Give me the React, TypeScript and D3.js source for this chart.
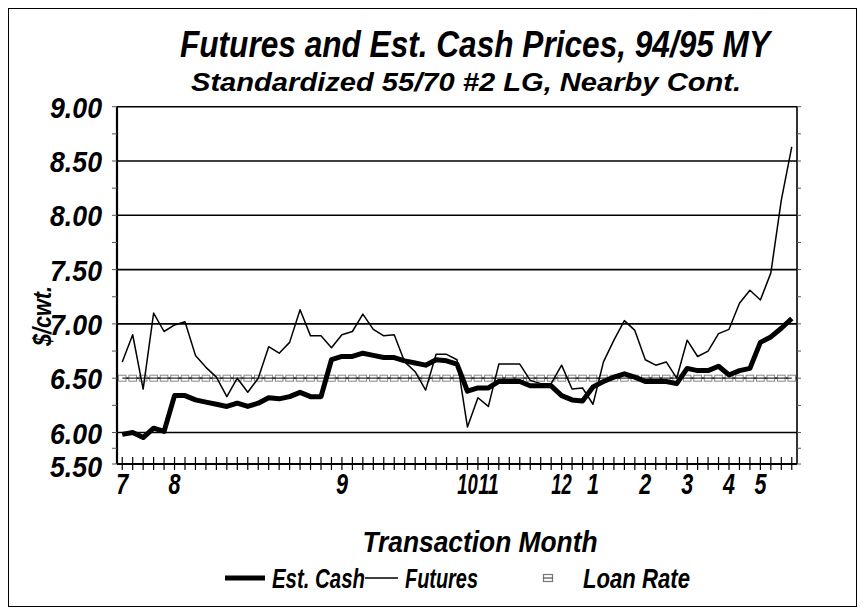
import React, { useLayoutEffect } from "react";
import * as d3 from "d3";

// ---- data ----
const monthLabels = ["7", "8", "9", "10", "11", "12", "1", "2", "3", "4", "5"];
const monthStartIndex = [0, 5, 21, 33, 35, 42, 45, 50, 54, 58, 61];

const estCash = [
  5.97, 6.0, 5.92, 6.04, 6.01, 6.34, 6.34, 6.3, 6.28, 6.26,
  6.24, 6.27, 6.24, 6.27, 6.32, 6.31, 6.33, 6.37, 6.33, 6.33,
  6.67, 6.7, 6.7, 6.73, 6.71, 6.69, 6.69, 6.66, 6.64, 6.62,
  6.67, 6.66, 6.63, 6.38, 6.41, 6.41, 6.47, 6.47, 6.47, 6.43,
  6.43, 6.43, 6.34, 6.3, 6.29, 6.42, 6.47, 6.51, 6.54, 6.51,
  6.47, 6.47, 6.47, 6.45, 6.59, 6.57, 6.57, 6.61, 6.53, 6.57,
  6.59, 6.83, 6.88, 6.96, 7.05,
];

const futures = [
  6.65, 6.9, 6.4, 7.1, 6.93, 6.99, 7.02, 6.71, 6.6, 6.51,
  6.33, 6.5, 6.37, 6.5, 6.79, 6.73, 6.83, 7.13, 6.89, 6.89,
  6.78, 6.9, 6.93, 7.09, 6.95, 6.89, 6.9, 6.65, 6.56, 6.39,
  6.72, 6.72, 6.67, 6.05, 6.32, 6.24, 6.63, 6.63, 6.63, 6.48,
  6.45, 6.45, 6.62, 6.4, 6.41, 6.26, 6.65, 6.85, 7.03, 6.94,
  6.67, 6.62, 6.65, 6.5, 6.85, 6.7, 6.75, 6.91, 6.95, 7.19,
  7.31, 7.22, 7.47, 8.14, 8.63,
];

const loanRate = 6.5;
const yTickValues = [5.5, 6.0, 6.5, 7.0, 7.5, 8.0, 8.5, 9.0];
const yMinorValues = [5.75, 6.25, 6.75, 7.25, 7.75, 8.25, 8.75];

const titleText = "Futures and Est. Cash Prices, 94/95 MY";
const subtitleText = "Standardized 55/70 #2 LG, Nearby Cont.";
const yAxisTitle = "$/cwt.";
const xAxisTitle = "Transaction Month";
const legendLabels = ["Est. Cash", "Futures", "Loan Rate"];

// ---- layout ----
const W = 865;
const H = 616;
const plotL = 117;
const plotR = 797;
const plotT = 106.7;
const plot6 = 432.5;
const plotB = 464;

const FONT = '"Liberation Sans Narrow", "Arial Narrow", "Liberation Sans", Arial, sans-serif';

let canvasCtx: CanvasRenderingContext2D | null = null;
function textWidth(t: string, size: number, factor = 0.82) {
  if (!canvasCtx) {
    const c = document.createElement("canvas");
    canvasCtx = c.getContext("2d");
  }
  if (!canvasCtx) return t.length * size * 0.5 * factor;
  canvasCtx.font = `italic bold ${size}px "Liberation Sans", Arial, sans-serif`;
  return canvasCtx.measureText(t).width * factor;
}

function T(props: {
  x: number;
  y: number;
  size: number;
  anchor?: "start" | "middle" | "end";
  width?: number;
  children: string;
  transform?: string;
}) {
  const w = props.width ?? textWidth(props.children, props.size);
  return (
    <text
      x={props.x}
      y={props.y}
      fontSize={props.size}
      fontFamily={FONT}
      fontWeight="bold"
      fontStyle="italic"
      textAnchor={props.anchor ?? "start"}
      textLength={w}
      lengthAdjust="spacingAndGlyphs"
      fill="#000"
      transform={props.transform}
    >
      {props.children}
    </text>
  );
}

export default function App() {
  useLayoutEffect(() => {
    document.body.style.margin = "0";
  }, []);

  const idx = d3.range(estCash.length);
  const x = d3.scalePoint<number>().domain(idx).range([plotL, plotR]).padding(0.5);
  const y = d3.scaleLinear().domain([5.5, 6.0, 9.0]).range([plotB, plot6, plotT]);

  const line = d3
    .line<number>()
    .x((_, i) => x(i) as number)
    .y((d) => y(d));

  const gridVals = yTickValues.filter((v) => v > 5.5 && v < 9.0);

  const legendY = 578;

  return (
    <svg width={W} height={H} style={{ display: "block", background: "#fff" }}>
      <rect x={8.5} y={8.5} width={848} height={598} fill="#fff" stroke="#000" strokeWidth={1} />

      <T x={475} y={57} size={37} anchor="middle" width={590}>{titleText}</T>
      <T x={466} y={91} size={26} anchor="middle" width={550}>{subtitleText}</T>

      {/* gridlines */}
      {gridVals.map((v) => (
        <line key={v} x1={plotL} x2={plotR} y1={y(v)} y2={y(v)} stroke="#000" strokeWidth={1.6} />
      ))}

      {/* plot frame */}
      <line x1={plotL} x2={plotR} y1={plotT} y2={plotT} stroke="#000" strokeWidth={1.6} />
      <line x1={plotR} x2={plotR} y1={plotT} y2={plotB} stroke="#000" strokeWidth={1.6} />
      <line x1={plotL} x2={plotR} y1={plotB} y2={plotB} stroke="#000" strokeWidth={1.8} />
      <line x1={plotL} x2={plotL} y1={plotT} y2={plotB} stroke="#000" strokeWidth={2.2} />

      {/* y ticks */}
      {yTickValues.concat(yMinorValues).map((v) => (
        <g key={"yt" + v}>
          <line x1={plotL - 5} x2={plotL} y1={y(v)} y2={y(v)} stroke="#555" strokeWidth={1} />
          <line x1={plotR} x2={plotR + 4} y1={y(v)} y2={y(v)} stroke="#555" strokeWidth={1} />
        </g>
      ))}
      {yTickValues.map((v) => (
        <T
          key={"yl" + v}
          x={102}
          y={v === 5.5 ? y(v) + 13 : y(v) + 11}
          size={30}
          anchor="end"
          width={52}
        >
          {v.toFixed(2)}
        </T>
      ))}

      {/* x ticks */}
      {idx.map((i) => (
        <line
          key={"xt" + i}
          x1={x(i) as number}
          x2={x(i) as number}
          y1={plotB - 7}
          y2={plotB + 6}
          stroke="#000"
          strokeWidth={1.2}
        />
      ))}
      {monthLabels.map((m, k) => (
        <T
          key={"xl" + k}
          x={x(monthStartIndex[k]) as number}
          y={494}
          size={30}
          anchor="middle"
          width={m.length === 1 ? 12 : 20.5}
        >
          {m}
        </T>
      ))}

      {/* axis titles */}
      <T x={480} y={552} size={30} anchor="middle" width={235}>{xAxisTitle}</T>
      <T
        x={0}
        y={0}
        size={26}
        anchor="middle"
        width={60}
        transform={`translate(${51},${316}) rotate(-90)`}
      >
        {yAxisTitle}
      </T>

      {/* loan rate */}
      {idx.map((i) => (
        <rect
          key={"lr" + i}
          x={(x(i) as number) - 3.8}
          y={y(loanRate) - 3}
          width={7.6}
          height={6}
          fill="#fff"
          stroke="#888"
          strokeWidth={1}
        />
      ))}
      <path d={line(idx.map(() => loanRate)) ?? ""} fill="none" stroke="#333" strokeWidth={1.2} />

      {/* series */}
      <path d={line(futures) ?? ""} fill="none" stroke="#000" strokeWidth={1.5} strokeLinejoin="round" />
      <path d={line(estCash) ?? ""} fill="none" stroke="#000" strokeWidth={5} strokeLinejoin="round" />

      {/* legend */}
      <line x1={225} x2={265} y1={legendY} y2={legendY} stroke="#000" strokeWidth={5} />
      <T x={272} y={legendY + 10} size={28} width={93}>{legendLabels[0]}</T>
      <line x1={365} x2={398} y1={legendY} y2={legendY} stroke="#000" strokeWidth={1.5} />
      <T x={405} y={legendY + 10} size={28} width={73}>{legendLabels[1]}</T>
      <rect x={543.5} y={legendY - 3.5} width={9} height={7} fill="#fff" stroke="#777" strokeWidth={1.2} />
      <line x1={543.5} x2={552.5} y1={legendY} y2={legendY} stroke="#333" strokeWidth={1} />
      <T x={583} y={legendY + 10} size={28} width={107}>{legendLabels[2]}</T>
    </svg>
  );
}
